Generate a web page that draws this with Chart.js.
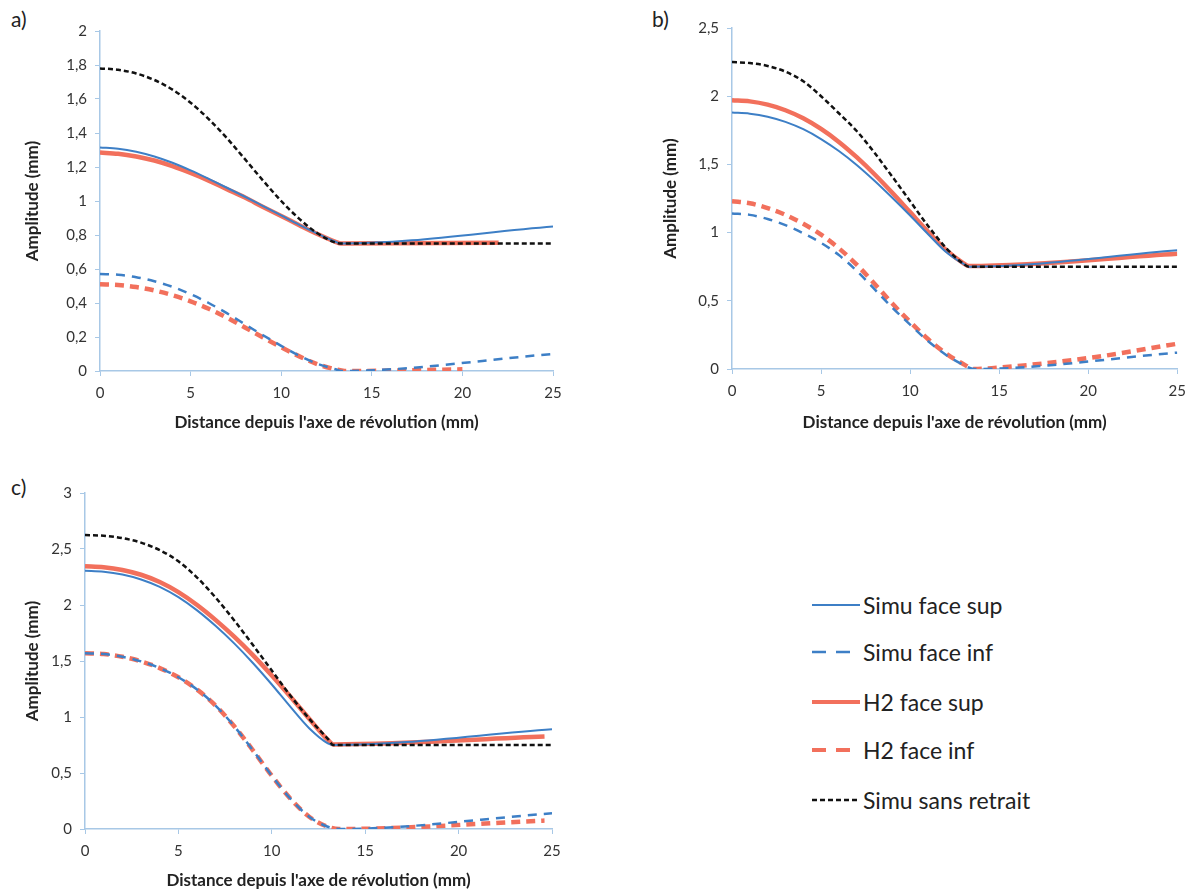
<!DOCTYPE html>
<html>
<head>
<meta charset="utf-8">
<script src="https://cdn.jsdelivr.net/npm/chart.js@4"></script>
<style>
  body { margin: 0; background: #fff; width: 1194px; height: 892px; position: relative; overflow: hidden; font-family: Lato, sans-serif; }
  canvas { position: absolute; }
  .tag { position: absolute; font-size: 21px; color: #222; }
  .leg { position: absolute; left: 812px; height: 30px; display: flex; align-items: center; font-size: 23px; color: #222; }
  .leg svg { margin-right: 3px; }
</style>
</head>
<body>
<div class="tag" style="left:11px;top:6px">a)</div>
<div class="tag" style="left:652px;top:6px">b)</div>
<div class="tag" style="left:11px;top:474px">c)</div>
<canvas id="chartA" width="600" height="440" style="left:0;top:0"></canvas>
<canvas id="chartB" width="554" height="440" style="left:640px;top:0"></canvas>
<canvas id="chartC" width="600" height="432" style="left:0;top:460px"></canvas>
<div id="legend"></div>
<script>
// abscisses communes de la partie descendante (mm)
const dist = [0, 1, 2, 3, 4, 5, 6, 7, 8, 9, 10, 11, 12, 13];

// ---- a) ----
const aSimuSup  = [1.315, 1.308, 1.29, 1.262, 1.225, 1.18, 1.13, 1.078, 1.025, 0.97, 0.915, 0.86, 0.808, 0.76];
const aSimuInf  = [0.57, 0.566, 0.552, 0.528, 0.495, 0.452, 0.4, 0.34, 0.275, 0.21, 0.148, 0.09, 0.042, 0.01];
const aH2Sup    = [1.285, 1.278, 1.262, 1.238, 1.205, 1.165, 1.12, 1.07, 1.02, 0.965, 0.912, 0.858, 0.806, 0.76];
const aH2Inf    = [0.51, 0.506, 0.494, 0.474, 0.446, 0.41, 0.366, 0.314, 0.256, 0.197, 0.14, 0.086, 0.04, 0.01];
const aSansRet  = [1.78, 1.772, 1.75, 1.712, 1.655, 1.578, 1.482, 1.37, 1.246, 1.12, 1.0, 0.895, 0.81, 0.755];
const aSimuSupTailX = [13.3, 25],  aSimuSupTailY = [0.75, 0.85];
const aSimuInfTailX = [13.3, 25],  aSimuInfTailY = [0, 0.1];
const aH2SupTailX   = [13.3, 22],  aH2SupTailY   = [0.75, 0.755];
const aH2InfTailX   = [13.5, 20],  aH2InfTailY   = [0, 0.01];
const aSansRetTailX = [13.3, 25],  aSansRetTailY = [0.75, 0.75];

// ---- b) ----
const bSimuSup  = [1.88, 1.872, 1.85, 1.812, 1.758, 1.686, 1.598, 1.496, 1.38, 1.255, 1.125, 0.99, 0.86, 0.77];
const bSimuInf  = [1.14, 1.13, 1.1, 1.055, 0.995, 0.925, 0.835, 0.72, 0.585, 0.45, 0.325, 0.205, 0.105, 0.03];
const bH2Sup    = [1.97, 1.962, 1.938, 1.897, 1.838, 1.76, 1.665, 1.553, 1.428, 1.292, 1.15, 1.008, 0.875, 0.775];
const bH2Inf    = [1.23, 1.215, 1.18, 1.13, 1.065, 0.985, 0.885, 0.765, 0.625, 0.48, 0.345, 0.22, 0.115, 0.035];
const bSansRet  = [2.25, 2.243, 2.222, 2.18, 2.11, 2.0, 1.875, 1.745, 1.585, 1.41, 1.23, 1.05, 0.89, 0.77];
const bSimuSupTailX = [13.3, 25],         bSimuSupTailY = [0.75, 0.87];
const bSimuInfTailX = [13.6, 25],         bSimuInfTailY = [0, 0.12];
const bH2SupTailX   = [13.3, 25],         bH2SupTailY   = [0.755, 0.845];
const bH2InfTailX   = [13.6, 15, 20, 25], bH2InfTailY   = [0, 0.01, 0.08, 0.185];
const bSansRetTailX = [13.3, 25],         bSansRetTailY = [0.75, 0.75];

// ---- c) ----
const cSimuSup  = [2.305, 2.297, 2.272, 2.228, 2.162, 2.07, 1.952, 1.812, 1.655, 1.48, 1.29, 1.09, 0.9, 0.765];
const cSimuInf  = [1.57, 1.562, 1.538, 1.497, 1.437, 1.355, 1.245, 1.1, 0.915, 0.7, 0.475, 0.27, 0.11, 0.02];
const cH2Sup    = [2.345, 2.337, 2.313, 2.27, 2.205, 2.115, 2.0, 1.865, 1.715, 1.55, 1.37, 1.18, 0.985, 0.795];
const cH2Inf    = [1.57, 1.562, 1.538, 1.497, 1.437, 1.355, 1.245, 1.1, 0.915, 0.7, 0.475, 0.27, 0.11, 0.02];
const cSansRet  = [2.625, 2.618, 2.597, 2.557, 2.49, 2.39, 2.245, 2.065, 1.86, 1.64, 1.415, 1.19, 0.985, 0.805];
const cSimuSupTailX = [13.3, 25],   cSimuSupTailY = [0.75, 0.89];
const cSimuInfTailX = [13.6, 25],   cSimuInfTailY = [0, 0.14];
const cH2SupTailX   = [13.3, 24.6], cH2SupTailY   = [0.755, 0.825];
const cH2InfTailX   = [13.6, 24.6], cH2InfTailY   = [0, 0.075];
const cSansRetTailX = [13.3, 25],   cSansRetTailY = [0.75, 0.75];

const seriesNames = ['Simu face sup', 'Simu face inf', 'H2 face sup', 'H2 face inf', 'Simu sans retrait'];
const xTickStep = 5;

const BLUE = '#3d7fc6';
const RED = '#f2705c';
const AXIS = '#a8c8e6';

function pts(ys, tx, ty) {
    return dist.map((x, i) => ({ x: x, y: ys[i] }))
        .concat(tx.map((x, i) => ({ x: x, y: ty[i] })));
}

// styles des 5 courbes, dans l'ordre de la légende
const styles = [
    { borderColor: BLUE, borderWidth: 2,   borderDash: [],      order: 2 },
    { borderColor: BLUE, borderWidth: 2.5, borderDash: [9, 7],  order: 2 },
    { borderColor: RED,  borderWidth: 4.5, borderDash: [],      order: 3 },
    { borderColor: RED,  borderWidth: 4.5, borderDash: [9, 6],  order: 3 },
    { borderColor: '#111', borderWidth: 2.5, borderDash: [5, 3], order: 1 }
];

function fmt(v) {
    return String(+v.toFixed(1)).replace('.', ',');
}

function makeChart(id, series, yMax, yStep, lay) {
    new Chart(document.getElementById(id), {
        type: 'line',
        data: {
            datasets: series.map((d, i) => Object.assign({
                label: seriesNames[i],
                data: d,
                pointRadius: 0,
                fill: false,
                cubicInterpolationMode: 'monotone'
            }, styles[i]))
        },
        options: {
            responsive: false,
            animation: false,
            layout: { padding: lay.padding },
            plugins: { legend: { display: false }, tooltip: { enabled: false } },
            scales: {
                x: {
                    type: 'linear',
                    min: 0, max: 25,
                    afterFit: s => { s.height = lay.xH; },
                    border: { color: AXIS, width: 1.5 },
                    grid: { drawOnChartArea: false, drawTicks: true, tickLength: 5, color: AXIS },
                    ticks: { stepSize: xTickStep, padding: 8, color: '#333', font: { family: 'Lato', size: 15 } },
                    title: {
                        display: true,
                        text: "Distance depuis l'axe de révolution (mm)",
                        color: '#222',
                        font: { family: 'Lato', size: 17, weight: 'bold' },
                        padding: { top: 0, bottom: lay.xTitlePad }
                    }
                },
                y: {
                    min: 0, max: yMax,
                    afterFit: s => { s.width = lay.yW; },
                    border: { color: AXIS, width: 1.5 },
                    grid: { drawOnChartArea: false, drawTicks: true, tickLength: 5, color: AXIS },
                    ticks: { stepSize: yStep, padding: 8, color: '#333', font: { family: 'Lato', size: 15 }, callback: fmt },
                    title: {
                        display: true,
                        text: 'Amplitude (mm)',
                        color: '#222',
                        font: { family: 'Lato', size: 17, weight: 'bold' },
                        padding: 0
                    }
                }
            }
        }
    });
}

makeChart('chartA', [
    pts(aSimuSup, aSimuSupTailX, aSimuSupTailY),
    pts(aSimuInf, aSimuInfTailX, aSimuInfTailY),
    pts(aH2Sup, aH2SupTailX, aH2SupTailY),
    pts(aH2Inf, aH2InfTailX, aH2InfTailY),
    pts(aSansRet, aSansRetTailX, aSansRetTailY)
], 2, 0.2, { padding: { left: 22, right: 47, top: 31, bottom: 0 }, yW: 78, xH: 69, xTitlePad: 7 });

makeChart('chartB', [
    pts(bSimuSup, bSimuSupTailX, bSimuSupTailY),
    pts(bSimuInf, bSimuInfTailX, bSimuInfTailY),
    pts(bH2Sup, bH2SupTailX, bH2SupTailY),
    pts(bH2Inf, bH2InfTailX, bH2InfTailY),
    pts(bSansRet, bSansRetTailX, bSansRetTailY)
], 2.5, 0.5, { padding: { left: 20, right: 11, top: 28, bottom: 0 }, yW: 72, xH: 71, xTitlePad: 7 });

makeChart('chartC', [
    pts(cSimuSup, cSimuSupTailX, cSimuSupTailY),
    pts(cSimuInf, cSimuInfTailX, cSimuInfTailY),
    pts(cH2Sup, cH2SupTailX, cH2SupTailY),
    pts(cH2Inf, cH2InfTailX, cH2InfTailY),
    pts(cSansRet, cSansRetTailX, cSansRetTailY)
], 3, 0.5, { padding: { left: 22, right: 48, top: 33, bottom: 0 }, yW: 63, xH: 63, xTitlePad: 1 });

// légende HTML
const legendTops = [590, 637, 687, 735, 785];
const legend = document.getElementById('legend');
seriesNames.forEach((name, i) => {
    const st = styles[i];
    const row = document.createElement('div');
    row.className = 'leg';
    row.style.top = legendTops[i] + 'px';
    let dash = st.borderDash.length ? st.borderDash.join(' ') : 'none';
    if (i === 1 || i === 3) dash = '14 10';
    row.innerHTML = '<svg width="48" height="10"><line x1="0" y1="5" x2="48" y2="5" stroke="' + st.borderColor +
        '" stroke-width="' + Math.min(st.borderWidth, 4) + '" stroke-dasharray="' + dash + '"/></svg><span>' + name + '</span>';
    legend.appendChild(row);
});
</script>
</body>
</html>
